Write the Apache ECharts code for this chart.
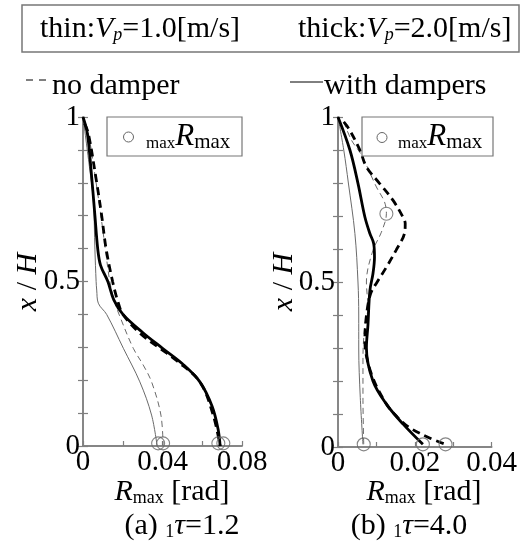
<!DOCTYPE html>
<html>
<head>
<meta charset="utf-8">
<script src="https://cdn.jsdelivr.net/npm/echarts@6/dist/echarts.min.js"></script>
<style>html,body{margin:0;padding:0;background:#fff}#c{width:520px;height:548px}</style>
</head>
<body>
<div id="c"></div>
<script>
// ---------- data (R_max [rad], x/H) ----------
var aNoDampThick = [[0.0008,0.98],[0.0027,0.95],[0.0069,0.8],[0.0094,0.7],[0.0116,0.6],[0.0149,0.5],[0.0175,0.44],[0.0201,0.4],[0.0286,0.343],[0.0387,0.297],[0.047,0.26],[0.0588,0.195],[0.0655,0.094],[0.069,0]];
var aWithDampThick = [[0,1],[0.0022,0.95],[0.0039,0.85],[0.006,0.7],[0.0074,0.6],[0.0088,0.55],[0.0125,0.5],[0.0155,0.444],[0.0201,0.4],[0.03,0.345],[0.040,0.297],[0.05,0.25],[0.0588,0.195],[0.065,0.12],[0.068,0.05],[0.069,0]];
var aWithDampThin = [[0,1],[0.0032,0.85],[0.0052,0.747],[0.006,0.596],[0.0066,0.5],[0.0069,0.474],[0.0077,0.434],[0.0119,0.4],[0.0203,0.297],[0.0286,0.195],[0.0345,0.094],[0.0373,0]];
var aNoDampThin = [[0.0008,0.98],[0.0027,0.95],[0.0066,0.8],[0.009,0.7],[0.0112,0.6],[0.0135,0.5],[0.0158,0.44],[0.0186,0.393],[0.0253,0.297],[0.0303,0.246],[0.0345,0.195],[0.0392,0.094],[0.0403,0]];
var aMaxPoints = [[0.0378,0.008],[0.0403,0.008],[0.0681,0.008],[0.0706,0.008]];

var bNoDampThick = [[0.0015,0.985],[0.0029,0.963],[0.0057,0.9],[0.0074,0.849],[0.0108,0.799],[0.0143,0.748],[0.0169,0.697],[0.0175,0.677],[0.0173,0.647],[0.0151,0.596],[0.0126,0.545],[0.0102,0.5],[0.0085,0.465],[0.0074,0.398],[0.007,0.322],[0.0087,0.221],[0.0126,0.13],[0.0156,0.089],[0.0186,0.059],[0.0237,0.028],[0.028,0.008]];
var bWithDampThick = [[0,1],[0.0031,0.9],[0.0052,0.799],[0.007,0.697],[0.0083,0.647],[0.0093,0.616],[0.0095,0.575],[0.0091,0.525],[0.0083,0.474],[0.0078,0.37],[0.0074,0.3],[0.0091,0.2],[0.0126,0.13],[0.0169,0.07],[0.0221,0.008]];
var bWithDampThin = [[0,1],[0.0015,0.9],[0.0027,0.8],[0.0044,0.647],[0.0052,0.5],[0.0054,0.4],[0.0054,0.3],[0.0058,0.15],[0.0065,0.008]];
var bNoDampThin = [[0.0015,0.985],[0.0035,0.93],[0.0061,0.885],[0.01,0.788],[0.0121,0.743],[0.0126,0.707],[0.0113,0.651],[0.0091,0.596],[0.0074,0.5],[0.0078,0.42],[0.007,0.37],[0.0065,0.27],[0.0065,0.15],[0.0067,0.008]];
var bMaxPoints = [[0.0067,0.008],[0.0221,0.008],[0.028,0.008],[0.0126,0.707]];

var aXTicks = [0, 0.04, 0.08], aXLabels = ['0', '0.04', '0.08'];
var bXTicks = [0, 0.02, 0.04], bXLabels = ['0', '0.02', '0.04'];
var yTicks = [0, 0.5, 1], yLabels = ['0', '0.5', '1'];

// ---------- styling ----------
var FONT = 'Liberation Serif';
var AX = '#7f7f7f';
function pick(ticks, labels) {
  return function (v) {
    for (var i = 0; i < ticks.length; i++) if (Math.abs(v - ticks[i]) < 1e-9) return labels[i];
    return '';
  };
}
function xAxes(grid, max, interval, ticks, labels) {
  return [{
    gridIndex: grid, type: 'value', min: 0, max: max, interval: interval, position: 'bottom',
    axisLine: { lineStyle: { color: AX, width: 1.5 } },
    axisTick: { inside: true, length: 5, lineStyle: { color: AX, width: 1.2 } },
    axisLabel: { formatter: pick(ticks, labels), fontFamily: FONT, fontSize: 29, color: '#000', margin: 2, showMinLabel: true, showMaxLabel: true },
    splitLine: { show: false }
  }, {
    gridIndex: grid, type: 'value', min: 0, max: max, position: 'top',
    axisLine: { lineStyle: { color: AX, width: 1.5 } },
    axisTick: { show: false }, axisLabel: { show: false }, splitLine: { show: false }
  }];
}
function yAxes(grid) {
  return [{
    gridIndex: grid, type: 'value', min: 0, max: 1, interval: 0.1, position: 'left',
    axisLine: { lineStyle: { color: AX, width: 1.5 } },
    axisTick: { inside: true, length: 5, lineStyle: { color: AX, width: 1.2 } },
    axisLabel: { formatter: pick(yTicks, yLabels), fontFamily: FONT, fontSize: 29, color: '#000', margin: 3 },
    splitLine: { show: false }
  }, {
    gridIndex: grid, type: 'value', min: 0, max: 1, interval: 0.1, position: 'right',
    axisLine: { lineStyle: { color: AX, width: 1.5 } },
    axisTick: { inside: true, length: 5, lineStyle: { color: AX, width: 1.2 } },
    axisLabel: { show: false }, splitLine: { show: false }
  }];
}
function line(data, xi, yi, thick, dashed) {
  return {
    type: 'line', data: data, xAxisIndex: xi, yAxisIndex: yi, smooth: 0.35, showSymbol: false, silent: true,
    z: thick ? 4 : 3,
    lineStyle: {
      color: thick ? '#000' : '#6a6a6a', width: thick ? 2.8 : 1,
      type: dashed ? (thick ? [8, 5] : [6, 4]) : 'solid'
    }
  };
}
function circles(data, xi, yi) {
  return {
    type: 'scatter', data: data, xAxisIndex: xi, yAxisIndex: yi, symbol: 'circle', symbolSize: 13, silent: true, z: 5,
    itemStyle: { color: 'rgba(0,0,0,0)', borderColor: '#666', borderWidth: 1.1 }
  };
}

var richBase = {
  n: { fontFamily: FONT, fontSize: 30, fill: '#000' },
  i: { fontFamily: FONT, fontSize: 30, fontStyle: 'italic', fill: '#000' },
  s: { fontFamily: FONT, fontSize: 18, fill: '#000', verticalAlign: 'bottom' },
  si: { fontFamily: FONT, fontSize: 18, fontStyle: 'italic', fill: '#000', verticalAlign: 'bottom' },
  r: { fontFamily: FONT, fontSize: 31, fontStyle: 'italic', fill: '#000' },
  sp: { fontFamily: FONT, fontSize: 17, fill: '#000', verticalAlign: 'bottom' },
  sm: { fontFamily: FONT, fontSize: 21, fill: '#000', verticalAlign: 'bottom' }
};
function txt(x, y, text, align, rot) {
  return {
    type: 'text', x: x, y: y, rotation: rot || 0, z: 110,
    style: { text: text, rich: richBase, fontFamily: FONT, fontSize: 30, fill: '#000', align: align || 'left', verticalAlign: 'middle' }
  };
}

var graphics = [
  { type: 'rect', shape: { x: 22, y: 5, width: 497, height: 47 }, style: { fill: '#fff', stroke: '#777', lineWidth: 1.5 }, z: 100 },
  txt(40, 29, '{n|thin:}{i|V}{si|p}{n|=1.0[m/s]}'),
  txt(298, 29, '{n|thick:}{i|V}{si|p}{n|=2.0[m/s]}'),
  { type: 'line', shape: { x1: 26, y1: 80, x2: 33, y2: 80 }, style: { stroke: '#000', lineWidth: 1 }, z: 100 },
  { type: 'line', shape: { x1: 39, y1: 80, x2: 46, y2: 80 }, style: { stroke: '#000', lineWidth: 1 }, z: 100 },
  txt(52, 86, '{n|no damper}'),
  { type: 'line', shape: { x1: 290, y1: 82, x2: 323, y2: 82 }, style: { stroke: '#000', lineWidth: 1 }, z: 100 },
  txt(324, 86, '{n|with dampers}'),
  // in-plot legend boxes
  { type: 'rect', shape: { x: 107, y: 117, width: 135, height: 39 }, style: { fill: '#fff', stroke: '#777', lineWidth: 1.2 }, z: 100 },
  { type: 'circle', shape: { cx: 128.5, cy: 137, r: 5 }, style: { fill: 'none', stroke: '#666', lineWidth: 1 }, z: 110 },
  txt(146, 137, '{sp|max}{r|R}{sm|max}'),
  { type: 'rect', shape: { x: 362, y: 117, width: 131, height: 39 }, style: { fill: '#fff', stroke: '#777', lineWidth: 1.2 }, z: 100 },
  { type: 'circle', shape: { cx: 382, cy: 137.5, r: 5 }, style: { fill: 'none', stroke: '#666', lineWidth: 1 }, z: 110 },
  txt(398, 137, '{sp|max}{r|R}{sm|max}'),
  // axis names
  txt(28, 282, '{i|x}{n| / }{i|H}', 'center', Math.PI / 2),
  txt(284, 282, '{i|x}{n| / }{i|H}', 'center', Math.PI / 2),
  txt(172, 492, '{i|R}{s|max}{n| [rad]}', 'center'),
  txt(424, 492, '{i|R}{s|max}{n| [rad]}', 'center'),
  txt(182, 526, '{n|(a) }{s|1}{i|τ}{n|=1.2}', 'center'),
  txt(409, 526, '{n|(b) }{s|1}{i|τ}{n|=4.0}', 'center')
];

var chart = echarts.init(document.getElementById('c'), null, { renderer: 'canvas' });
chart.setOption({
  animation: false,
  backgroundColor: '#fff',
  grid: [
    { left: 83, top: 117, width: 159, height: 329 },
    { left: 338, top: 117, width: 155, height: 330 }
  ],
  xAxis: xAxes(0, 0.08, 0.02, aXTicks, aXLabels).concat(xAxes(1, 0.04, 0.01, bXTicks, bXLabels)),
  yAxis: yAxes(0).concat(yAxes(1)),
  series: [
    line(aWithDampThin, 0, 0, false, false),
    line(aNoDampThin, 0, 0, false, true),
    line(aNoDampThick, 0, 0, true, true),
    line(aWithDampThick, 0, 0, true, false),
    circles(aMaxPoints, 0, 0),
    line(bWithDampThin, 2, 2, false, false),
    line(bNoDampThin, 2, 2, false, true),
    line(bNoDampThick, 2, 2, true, true),
    line(bWithDampThick, 2, 2, true, false),
    circles(bMaxPoints, 2, 2)
  ],
  graphic: { elements: graphics }
});
</script>
</body>
</html>
